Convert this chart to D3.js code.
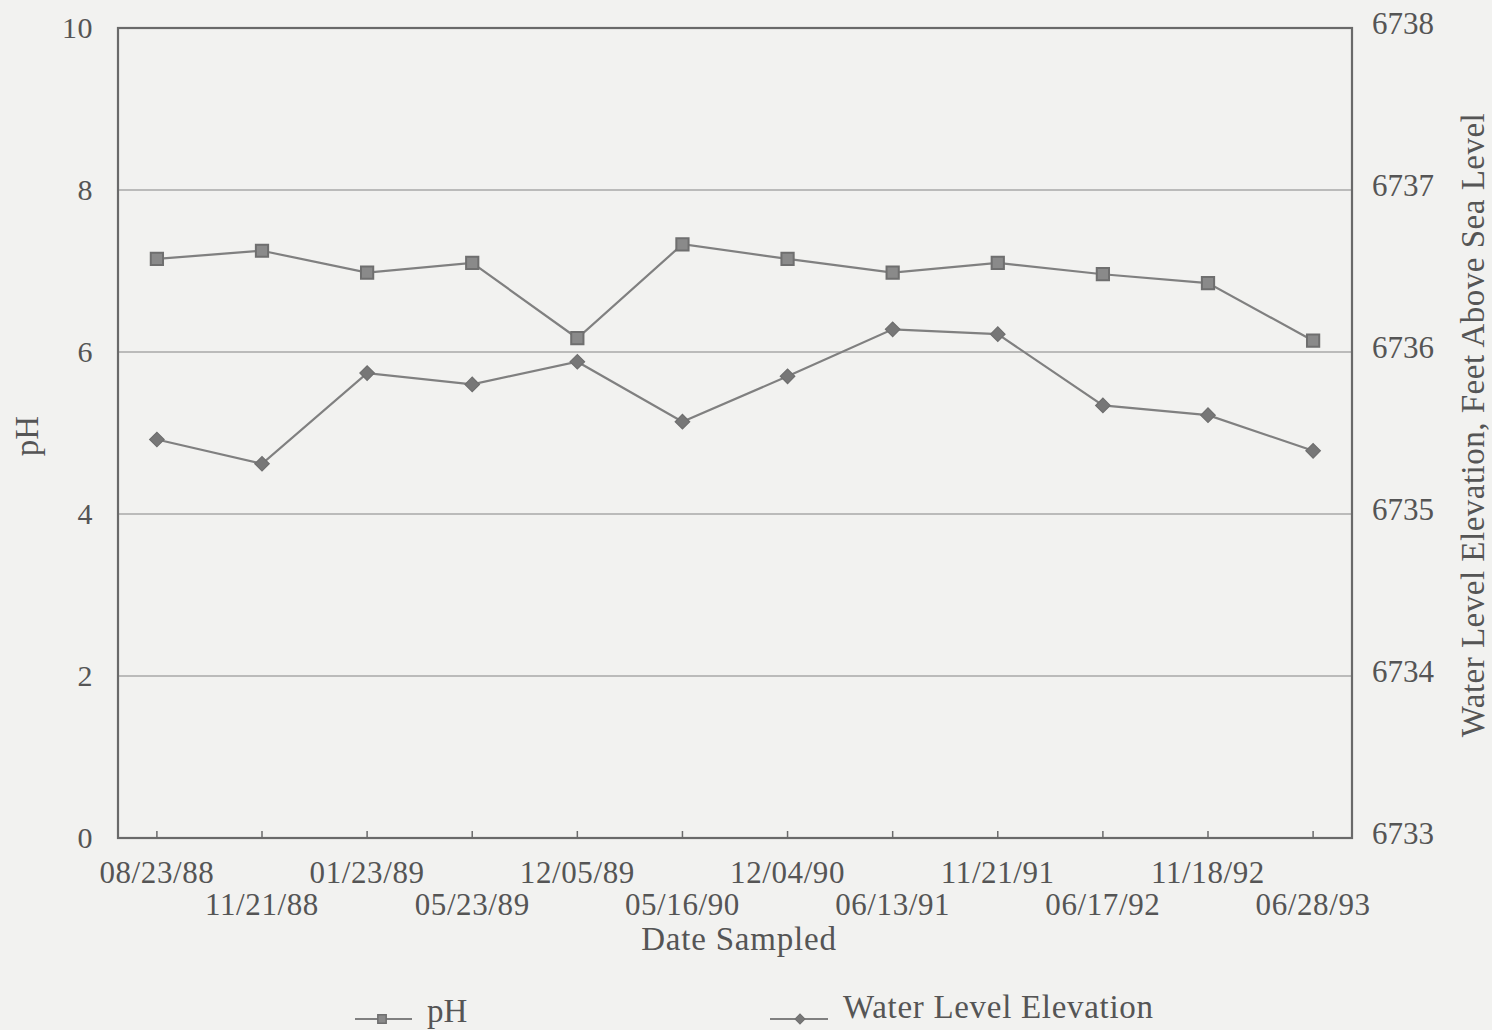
<!DOCTYPE html>
<html><head><meta charset="utf-8">
<script src="https://cdn.jsdelivr.net/npm/d3@7"></script>
<style>
html,body{margin:0;padding:0;background:#f2f2f0;}
svg{display:block;}
text{font-family:"Liberation Serif","DejaVu Serif",serif;fill:#555;}
</style></head><body>
<svg id="c" width="1492" height="1030"></svg>
<script>
const dates = ["08/23/88","11/21/88","01/23/89","05/23/89","12/05/89","05/16/90","12/04/90","06/13/91","11/21/91","06/17/92","11/18/92","06/28/93"];
const phValues = [7.15,7.25,6.98,7.10,6.17,7.33,7.15,6.98,7.10,6.96,6.85,6.14];
const waterLevel = [6735.46,6735.31,6735.87,6735.80,6735.94,6735.57,6735.85,6736.14,6736.11,6735.67,6735.61,6735.39];
const phTicks = [0,2,4,6,8,10];
const wlTicks = [6733,6734,6735,6736,6737,6738];

const svg = d3.select("#c");
const L=118, R=1352, T=28, B=838;
const x = d3.scalePoint().domain(dates).range([L,R]).padding(0.37);
const y = d3.scaleLinear().domain([0,10]).range([B,T]);
const y2 = d3.scaleLinear().domain([6733,6738]).range([B,T]);

// gridlines
svg.append("g").selectAll("line").data(phTicks.filter(d=>d>0&&d<10)).join("line")
  .attr("x1",L).attr("x2",R).attr("y1",d=>y(d)).attr("y2",d=>y(d))
  .attr("stroke","#a8a8a8").attr("stroke-width",1.3);

// frame
svg.append("rect").attr("x",L).attr("y",T).attr("width",R-L).attr("height",B-T)
  .attr("fill","none").attr("stroke","#6a6a6a").attr("stroke-width",2.2);

// left axis labels
svg.append("g").selectAll("text").data(phTicks).join("text")
  .attr("x",93).attr("y",d=>y(d)+10).attr("text-anchor","end")
  .attr("font-size",30).attr("letter-spacing",0.5).text(d=>d);
// right axis labels
svg.append("g").selectAll("text").data(wlTicks).join("text")
  .attr("x",1372).attr("y",d=>y2(d)+6).attr("text-anchor","start")
  .attr("font-size",31).text(d=>d);

// x ticks
svg.append("g").selectAll("line").data(dates).join("line")
  .attr("x1",d=>x(d)).attr("x2",d=>x(d)).attr("y1",B).attr("y2",B-7)
  .attr("stroke","#6a6a6a").attr("stroke-width",1.5);
svg.append("g").selectAll("text").data(dates).join("text")
  .attr("x",d=>x(d)).attr("y",(d,i)=> i%2===0 ? 883 : 915)
  .attr("text-anchor","middle").attr("font-size",31).attr("letter-spacing",0.6).text(d=>d);

// axis titles
svg.append("text").attr("x",739).attr("y",950).attr("text-anchor","middle")
  .attr("font-size",33).attr("letter-spacing",0.8).text("Date Sampled");
svg.append("text").attr("transform","translate(38,436) rotate(-90)")
  .attr("text-anchor","middle").attr("font-size",33).text("pH");
svg.append("text").attr("transform","translate(1484,425) rotate(-90)")
  .attr("text-anchor","middle").attr("font-size",33).attr("letter-spacing",0.5).text("Water Level Elevation, Feet Above Sea Level");

const lineCol="#808080", markCol="#6f6f6f";
// pH line
svg.append("path").datum(phValues)
  .attr("d",d3.line().x((d,i)=>x(dates[i])).y(d=>y(d)))
  .attr("fill","none").attr("stroke",lineCol).attr("stroke-width",2.2);
// WL line
svg.append("path").datum(waterLevel)
  .attr("d",d3.line().x((d,i)=>x(dates[i])).y(d=>y2(d)))
  .attr("fill","none").attr("stroke",lineCol).attr("stroke-width",2.2);

const sq = d3.symbol().type(d3.symbolSquare).size(150);
const dm = d3.symbol().type(d3.symbolSquare).size(105);
svg.append("g").selectAll("path").data(phValues).join("path")
  .attr("d",sq).attr("transform",(d,i)=>`translate(${x(dates[i])},${y(d)})`)
  .attr("fill","#8a8a8a").attr("stroke",markCol).attr("stroke-width",2);
svg.append("g").selectAll("path").data(waterLevel).join("path")
  .attr("d",dm).attr("transform",(d,i)=>`translate(${x(dates[i])},${y2(d)}) rotate(45)`)
  .attr("fill","#777").attr("stroke",markCol).attr("stroke-width",1.2);

// legend
const lg = svg.append("g");
lg.append("line").attr("x1",355).attr("x2",412).attr("y1",1019).attr("y2",1019).attr("stroke",lineCol).attr("stroke-width",2);
lg.append("path").attr("d",d3.symbol().type(d3.symbolSquare).size(70)).attr("transform","translate(382,1019)").attr("fill","#8a8a8a").attr("stroke",markCol).attr("stroke-width",1.5);
lg.append("text").attr("x",427).attr("y",1022).attr("font-size",33).text("pH");
lg.append("line").attr("x1",770).attr("x2",828).attr("y1",1019).attr("y2",1019).attr("stroke",lineCol).attr("stroke-width",2);
lg.append("path").attr("d",d3.symbol().type(d3.symbolSquare).size(50)).attr("transform","translate(800,1019) rotate(45)").attr("fill","#777").attr("stroke",markCol).attr("stroke-width",1);
lg.append("text").attr("x",843).attr("y",1018).attr("font-size",33).attr("letter-spacing",0.7).text("Water Level Elevation");
</script>
</body></html>
